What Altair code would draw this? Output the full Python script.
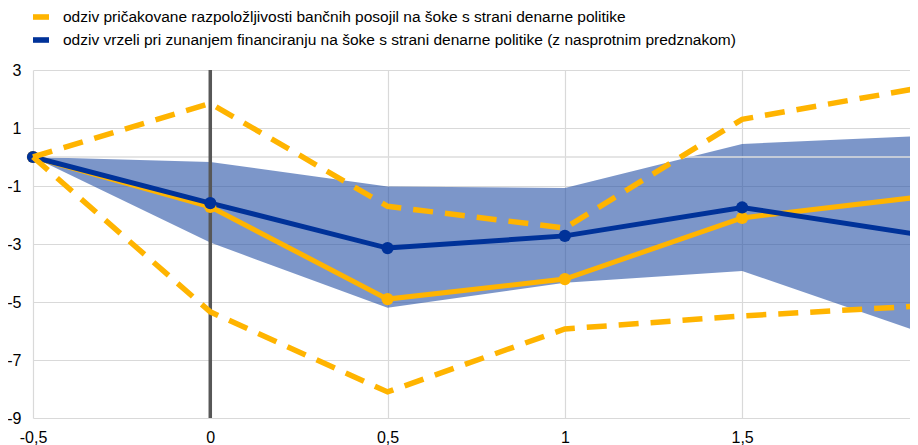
import altair as alt
import pandas as pd

FONT = "Liberation Sans"
YEL = "#FFB400"
BLUE = "#003299"

LAB_LOAN = "odziv pričakovane razpoložljivosti bančnih posojil na šoke s strani denarne politike"
LAB_GAP = "odziv vrzeli pri zunanjem financiranju na šoke s strani denarne politike (z nasprotnim predznakom)"

x_vals = [-0.5, 0, 0.5, 1, 1.5, 2]
y_ticks = [-9, -7, -5, -3, -1, 1, 3]

loan = [0, -1.72, -4.9, -4.21, -2.1, -1.38]
loan_hi = [0, 1.85, -1.7, -2.45, 1.3, 2.38]
loan_lo = [0, -5.34, -8.1, -5.93, -5.48, -5.14]

gap = [0, -1.59, -3.14, -2.72, -1.74, -2.68]
gap_hi = [0, -0.17, -1.02, -1.07, 0.45, 0.72]
gap_lo = [0, -2.95, -5.2, -4.34, -3.93, -6.03]

band_df = pd.DataFrame({"x": x_vals, "hi": gap_hi, "lo": gap_lo})
loan_df = pd.DataFrame({"x": x_vals, "y": loan, "s": LAB_LOAN})
gap_df = pd.DataFrame({"x": x_vals, "y": gap, "s": LAB_GAP})
main_df = pd.concat([loan_df, gap_df])
dash_df = pd.concat([
    pd.DataFrame({"x": x_vals, "y": loan_hi, "b": "hi"}),
    pd.DataFrame({"x": x_vals, "y": loan_lo, "b": "lo"}),
])
zero_df = pd.DataFrame({"y": [0]})
vline_df = pd.DataFrame({"x": [0]})

# the reference is cropped just past x = 2
xs = alt.Scale(domain=[-0.5, 1.9735], nice=False, zero=False)
ys = alt.Scale(domain=[-9, 3], nice=False, zero=False)

x_axis = alt.Axis(values=x_vals, labelExpr="replace(toString(datum.value), '.', ',')",
                  grid=True, gridColor="#d9d9d9", gridWidth=1.2, domain=False, ticks=False,
                  labelPadding=11, labelFontSize=16, labelFont=FONT, labelColor="#000000",
                  labelFlush=False, labelBound=False, title=None)
y_axis = alt.Axis(values=y_ticks, labelExpr="toString(datum.value)",
                  grid=True, gridColor="#d9d9d9", gridWidth=1.2, domain=False, ticks=False,
                  labelPadding=12, labelFontSize=16, labelFont=FONT, labelColor="#000000",
                  title=None)

X = alt.X("x:Q", scale=xs, axis=x_axis)
Y = alt.Y("y:Q", scale=ys, axis=y_axis)

color_scale = alt.Scale(domain=[LAB_LOAN, LAB_GAP], range=[YEL, BLUE])

band = alt.Chart(band_df).mark_area(color="#2450A5", opacity=0.6).encode(
    x=X, y=alt.Y("hi:Q", scale=ys, axis=y_axis), y2="lo:Q")

zero = alt.Chart(zero_df).mark_rule(color="#dcdcdc", strokeWidth=1.5).encode(y=Y)

vline = alt.Chart(vline_df).mark_rule(color="#575757", strokeWidth=3.5).encode(x=X)

line_loan = alt.Chart(loan_df).mark_line(color=YEL, strokeWidth=5).encode(x=X, y=Y)
line_gap = alt.Chart(gap_df).mark_line(color=BLUE, strokeWidth=5).encode(x=X, y=Y)

points = alt.Chart(main_df).mark_circle(size=150, opacity=1).encode(
    x=X, y=Y,
    color=alt.Color("s:N", scale=color_scale, legend=alt.Legend(
        orient="none", legendX=0, legendY=-61, title=None,
        symbolType="M-1,-0.35L1,-0.35L1,0.35L-1,0.35Z", symbolSize=256,
        symbolStrokeWidth=0, symbolOpacity=1,
        labelFontSize=15.5, labelFont=FONT, labelColor="#000000",
        labelOffset=14, rowPadding=6, labelLimit=0, direction="vertical")))

dashed = alt.Chart(dash_df).mark_line(color=YEL, strokeWidth=5.5, strokeDash=[20, 12],
                                      strokeCap="butt").encode(x=X, y=Y, detail="b:N")

chart = alt.layer(band, zero, vline, line_loan, line_gap, points, dashed).properties(
    width=877, height=348,
    autosize=alt.AutoSizeParams(type="none"),
    padding={"left": 25, "top": 62, "right": 0, "bottom": 27},
).configure_view(stroke=None)

chart.save("out.html", embed_options={"renderer": "svg", "actions": False})
